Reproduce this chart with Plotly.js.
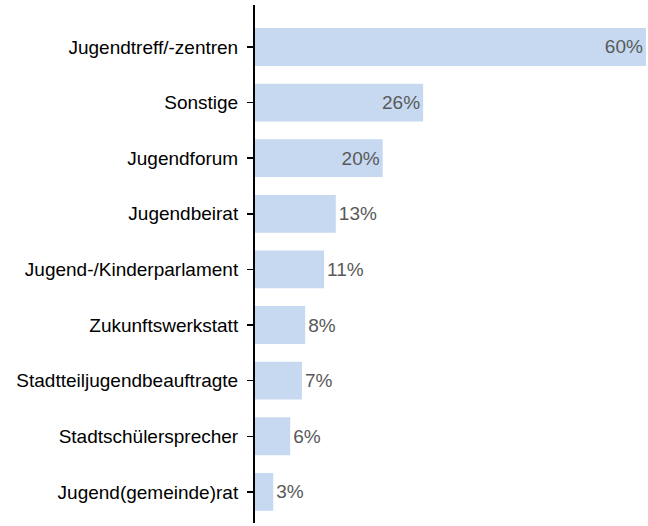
<!DOCTYPE html>
<html>
<head>
<meta charset="utf-8">
<script src="https://cdn.plot.ly/plotly-3.0.1.min.js"></script>
<style>html,body{margin:0;padding:0;background:#fff;}#chart{width:648px;height:526px;}</style>
</head>
<body>
<div id="chart"></div>
<script>
const categories = ["Jugendtreff/-zentren","Sonstige","Jugendforum","Jugendbeirat","Jugend-/Kinderparlament","Zukunftswerkstatt","Stadtteiljugendbeauftragte","Stadtschülersprecher","Jugend(gemeinde)rat"];
// bar lengths (percent)
const values = [60, 25.8, 19.6, 12.4, 10.6, 7.7, 7.2, 5.4, 2.8];
// printed value labels
const valueLabels = ["60%", "26%", "20%", "13%", "11%", "8%", "7%", "6%", "3%"];
const labelPositions = ["inside", "inside", "inside", "outside", "outside", "outside", "outside", "outside", "outside"];

const FONT = "'Liberation Sans', Arial, sans-serif";

const trace = {
  type: "bar",
  orientation: "h",
  x: values,
  y: categories,
  text: valueLabels,
  textposition: labelPositions,
  textangle: 0,
  constraintext: "none",
  insidetextanchor: "end",
  insidetextfont: {family: FONT, size: 19, color: "#595959"},
  outsidetextfont: {family: FONT, size: 19, color: "#595959"},
  marker: {color: "#c6d9f1"},
  width: 0.68,
  cliponaxis: false,
  hoverinfo: "none"
};

const layout = {
  width: 648, height: 526,
  margin: {l: 255, r: 2, t: 5, b: 3, pad: 0},
  paper_bgcolor: "#ffffff",
  plot_bgcolor: "#ffffff",
  showlegend: false,
  xaxis: {range: [0, 60], visible: false, showgrid: false, zeroline: false, fixedrange: true},
  yaxis: {
    type: "category",
    categoryorder: "array",
    categoryarray: categories,
    range: [8.56, -0.755],
    showline: true, linecolor: "#000000", linewidth: 2,
    ticks: "outside", ticklen: 6, tickcolor: "#000000", tickwidth: 1.5,
    ticklabelstandoff: 5,
    showgrid: false, zeroline: false,
    tickfont: {family: FONT, size: 19, color: "#000000"},
    fixedrange: true
  }
};

Plotly.newPlot("chart", [trace], layout, {displayModeBar: false, staticPlot: true});
</script>
</body>
</html>
